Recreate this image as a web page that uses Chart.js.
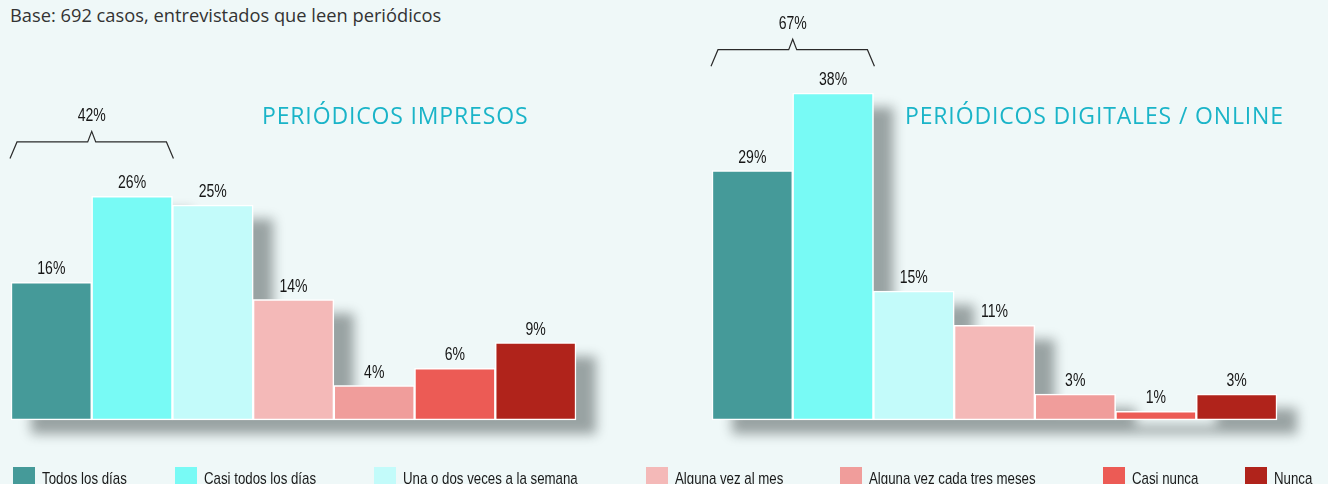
<!DOCTYPE html>
<html><head><meta charset="utf-8">
<script src="https://cdn.jsdelivr.net/npm/chart.js@4.4.0/dist/chart.umd.min.js"></script>
<style>
html,body{margin:0;padding:0;background:#eff8f8;width:1328px;height:484px;overflow:hidden;position:relative;font-family:"Open Sans",sans-serif;}
.base{position:absolute;left:10px;top:2px;font-size:18.3px;color:#333;white-space:nowrap;}
.title{position:absolute;top:99px;font-size:23px;letter-spacing:0.85px;color:#1ab4c8;white-space:nowrap;}
#t1{left:262px;} #t2{left:905px;}
canvas{position:absolute;top:0;}
#c1{left:0;} #c2{left:664px;}
.leg{position:absolute;top:467px;height:22px;white-space:nowrap;font-family:"Liberation Sans",Arial,sans-serif;font-size:17px;color:#1a1a1a;}
.leg i{position:absolute;left:0;top:0;width:22px;height:22px;}
.leg span{position:absolute;left:29px;top:2px;line-height:19px;transform:scaleX(0.78);transform-origin:0 50%;}
.leg:nth-of-type(1){left:13px}.leg:nth-of-type(2){left:175px}.leg:nth-of-type(3){left:374px}
.leg:nth-of-type(4){left:646px}.leg:nth-of-type(5){left:840px}.leg:nth-of-type(6){left:1103px}.leg:nth-of-type(7){left:1245px}
</style></head>
<body>
<div class="base" id="base"></div>
<canvas id="c1" width="664" height="484"></canvas>
<canvas id="c2" width="664" height="484"></canvas>
<div class="title" id="t1"></div>
<div class="title" id="t2"></div>
<div id="legend"></div>
<script>
const note = "Base: 692 casos, entrevistados que leen periódicos";
const categories = ["Todos los días","Casi todos los días","Una o dos veces a la semana","Alguna vez al mes","Alguna vez cada tres meses","Casi nunca","Nunca"];
const colors = ["#459a99","#78faf5","#c3fbfa","#f4b9b8","#f09d9b","#ec5b55","#b0231b"];
const impresosTitle = "PERIÓDICOS IMPRESOS";
const impresosValues = [16,26,25,14,4,6,9];
const impresosBracket = 42;
const digitalesTitle = "PERIÓDICOS DIGITALES / ONLINE";
const digitalesValues = [29,38,15,11,3,1,3];
const digitalesBracket = 67;
const yMax = 45;

document.getElementById('base').textContent = note;
document.getElementById('t1').textContent = impresosTitle;
document.getElementById('t2').textContent = digitalesTitle;
const legend = document.getElementById('legend');
categories.forEach((c,i)=>{
  const d=document.createElement('div'); d.className='leg';
  d.innerHTML='<i style="background:'+colors[i]+'"></i><span></span>';
  d.querySelector('span').textContent=c;
  legend.appendChild(d);
});

const BG = "#eff8f8";
const LABEL_FONT = '18px "Liberation Sans",Arial,sans-serif';
const NARROW = 0.78;

function narrowText(ctx, txt, x, y){
  ctx.save(); ctx.translate(x,y); ctx.scale(NARROW,1); ctx.fillText(txt,0,0); ctx.restore();
}

const shadowPlugin = {
  id:'shadow',
  beforeDatasetsDraw(chart){
    const ctx=chart.ctx, meta=chart.getDatasetMeta(0);
    ctx.save();
    ctx.shadowColor='rgba(25,35,35,0.4)';
    ctx.shadowBlur=12; ctx.shadowOffsetX=20; ctx.shadowOffsetY=14;
    ctx.fillStyle=BG;
    ctx.beginPath();
    meta.data.forEach(b=>{
      const p=b.getProps(['x','y','base','width'],true);
      ctx.rect(p.x-p.width/2,p.y,p.width,p.base-p.y);
    });
    ctx.fill();
    ctx.restore();
  }
};
const labelPlugin = {
  id:'vals',
  afterDatasetsDraw(chart){
    const ctx=chart.ctx, meta=chart.getDatasetMeta(0), data=chart.data.datasets[0].data;
    ctx.save();
    ctx.font=LABEL_FONT; ctx.fillStyle='#161616'; ctx.textAlign='center'; ctx.textBaseline='alphabetic';
    meta.data.forEach((b,i)=>{ narrowText(ctx, data[i]+'%', b.x, b.y-8); });
    const o=chart.options.plugins.bracket;
    const b0=meta.data[0], b1=meta.data[1];
    const L=b0.x-b0.width/2-1, R=b1.x+b1.width/2+1;
    const yb=Math.min(b0.y,b1.y)-o.gap;
    const mid=(L+R)/2;
    ctx.strokeStyle='#2a2a2a'; ctx.lineWidth=1.2;
    ctx.beginPath();
    ctx.moveTo(L,yb); ctx.lineTo(L+7,yb-16.5); ctx.lineTo(mid-4,yb-16.5); ctx.lineTo(mid,yb-27);
    ctx.lineTo(mid+4,yb-16.5); ctx.lineTo(R-7,yb-16.5); ctx.lineTo(R,yb);
    ctx.stroke();
    narrowText(ctx, o.total+'%', mid, yb-37);
    ctx.restore();
  }
};

function makeChart(id, values, total, padL, gap){
  return new Chart(document.getElementById(id),{
    type:'bar',
    data:{labels:categories,datasets:[{data:values,backgroundColor:colors,borderColor:'#ffffff',borderWidth:1.5,borderSkipped:false,categoryPercentage:1,barPercentage:1,clip:false}]},
    options:{
      responsive:false, animation:false, events:[],
      layout:{padding:{left:padL,right:664-padL-565,top:33,bottom:64}},
      scales:{x:{display:false},y:{display:false,min:0,max:yMax}},
      plugins:{legend:{display:false},tooltip:{enabled:false},bracket:{total:total,gap:gap}}
    },
    plugins:[shadowPlugin,labelPlugin]
  });
}
makeChart('c1', impresosValues, impresosBracket, 11, 38);
makeChart('c2', digitalesValues, digitalesBracket, 48, 27);
</script>
</body></html>
